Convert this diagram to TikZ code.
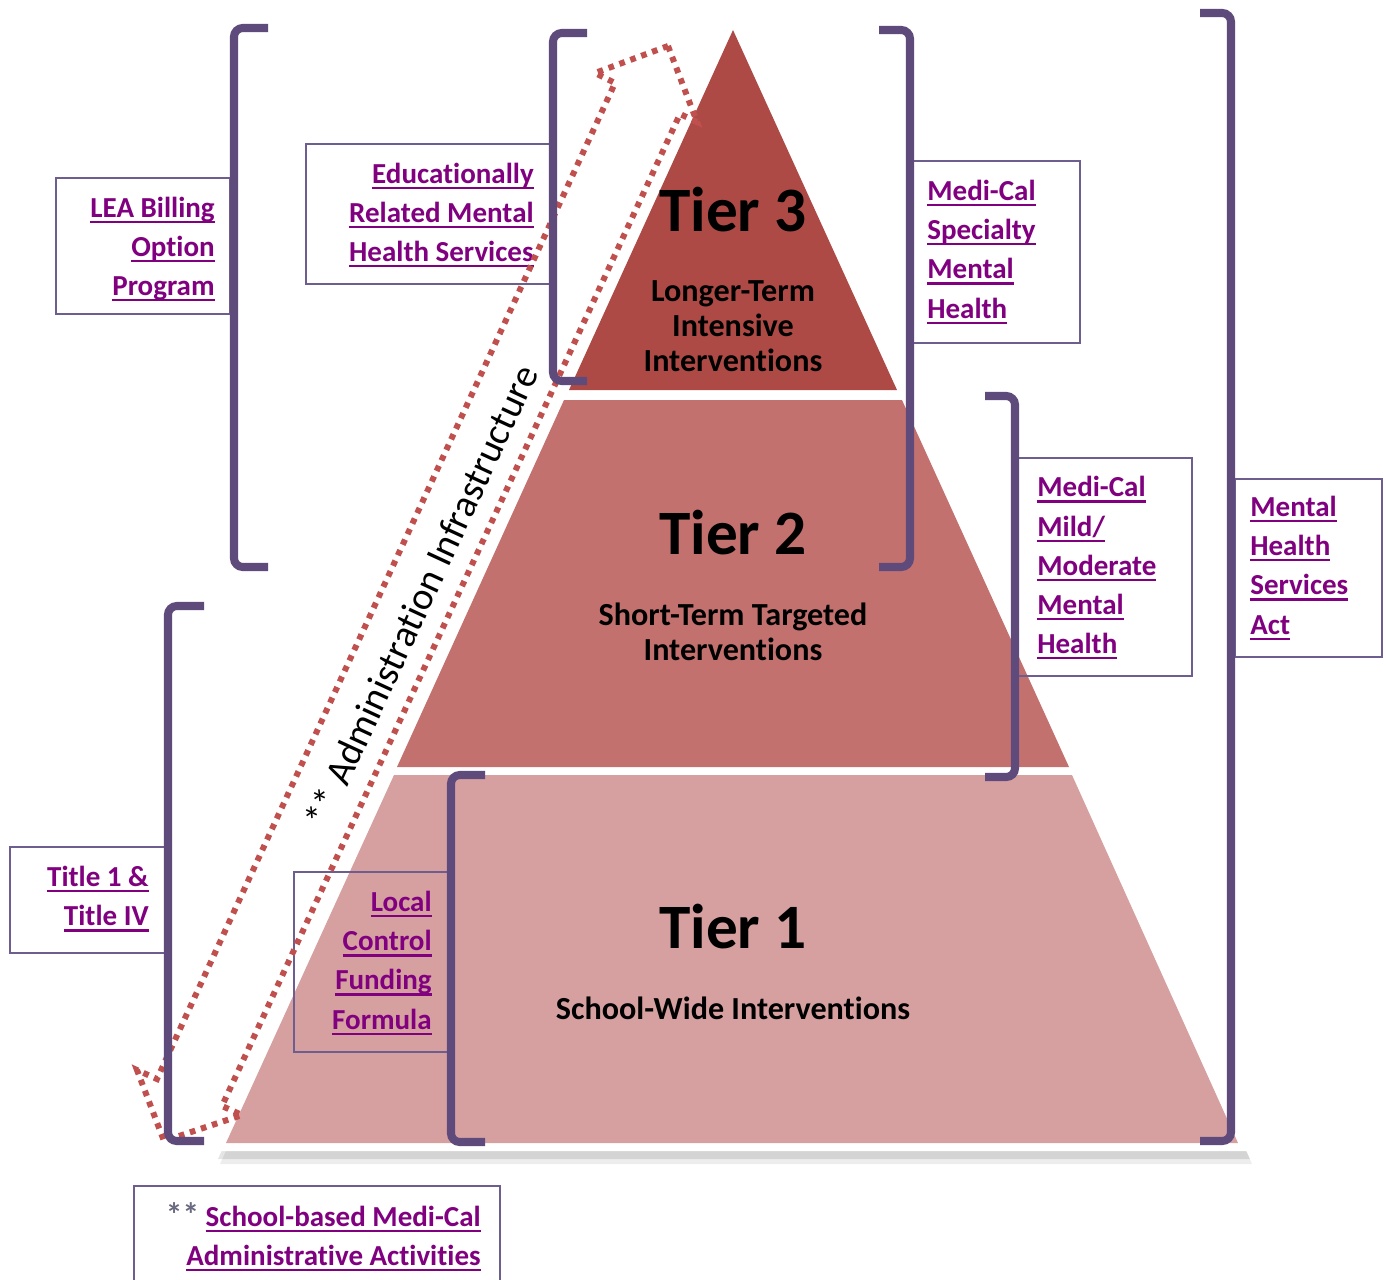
\documentclass[tikz,border=0pt]{standalone}
\usepackage{fontspec}
\setmainfont{Carlito}[Ligatures=NoCommon]
\usetikzlibrary{fit}
\definecolor{brc}{HTML}{5F4B7B}
\definecolor{boxc}{HTML}{6E5E90}
\definecolor{linkc}{HTML}{800080}
\definecolor{starc}{HTML}{6A6A80}
\definecolor{dotc}{HTML}{C0504D}
\definecolor{tthree}{HTML}{AE4A46}
\definecolor{ttwo}{HTML}{C3716F}
\definecolor{tone}{HTML}{D7A0A0}
\newcommand\lnk[1]{{\setbox0\hbox{#1}\rlap{\color{linkc}\rule[-3.3pt]{\wd0}{1.3pt}}\box0}}
\begin{document}
\begin{tikzpicture}[x=0.02cm,y=-0.02cm,
  brk/.style={draw=brc, line width=4.6pt, rounded corners=5pt},
  lbox/.style={draw=boxc, line width=1.2pt, inner sep=0pt},
  lnkt/.style={text=linkc, font=\fontsize{16.5}{22.3}\selectfont\bfseries, inner sep=0pt},
  tierbig/.style={font=\fontsize{36}{40}\selectfont\bfseries, text=black, inner sep=0pt},
  tiersub/.style={font=\fontsize{18.3}{19.9}\selectfont\bfseries, align=center, inner sep=0pt},
  dots/.style={draw=dotc, line width=3.4pt, dash pattern=on 3.2pt off 3.4pt, line join=miter}]
\useasboundingbox (0,0) rectangle (1386,1279);
\fill[white] (0,0) rectangle (1386,1279);
% pyramid with soft shadow
\fill[black, opacity=0.07] (735,26) -- (1252,1164) -- (220,1164) -- cycle;
\fill[black, opacity=0.10] (734,22) -- (1250,1159) -- (218,1159) -- cycle;
\fill[white] (733,16) -- (1249,1151) -- (215,1151) -- cycle;
\fill[tthree] (733,30) -- (897,390) -- (569,390) -- cycle;
\fill[ttwo] (564,400) -- (902,400) -- (1069,767) -- (397,767) -- cycle;
\fill[tone] (394,775) -- (1072,775) -- (1238,1143) -- (226,1143) -- cycle;
% boxes
\node[lbox, fit={(56,178) (230,314)}] (leabox) {};
\node[lbox, fit={(306,144) (550,284)}] (erbox) {};
\node[lbox, fit={(912,161) (1080,343)}] (spbox) {};
\node[lbox, fit={(1017,458) (1192,676)}] (mmbox) {};
\node[lbox, fit={(1235,479) (1382,657)}] (mhbox) {};
\node[lbox, fit={(10,847) (168,953)}] (tibox) {};
\node[lbox, fit={(294,872) (450,1052)}] (lcbox) {};
\node[lbox, fit={(134,1186) (500,1295)}] (sbbox) {};
% texts of boxes
\node[lnkt, anchor=east, align=right] (leat) at (215,249) {\lnk{LEA Billing}\\\lnk{Option}\\\lnk{Program}};
\node[lnkt, anchor=east, align=right] (ert) at (534,215) {\lnk{Educationally}\\\lnk{Related Mental}\\\lnk{Health Services}};
\node[lnkt, anchor=west, align=left] (spt) at (927,252) {\lnk{Medi-Cal}\\\lnk{Specialty}\\\lnk{Mental}\\\lnk{Health}};
\node[lnkt, anchor=west, align=left] (mmt) at (1037,568) {\lnk{Medi-Cal}\\\lnk{Mild/}\\\lnk{Moderate}\\\lnk{Mental}\\\lnk{Health}};
\node[lnkt, anchor=west, align=left] (mht) at (1250,568) {\lnk{Mental}\\\lnk{Health}\\\lnk{Services}\\\lnk{Act}};
\node[lnkt, anchor=east, align=right] (tit) at (149,899) {\lnk{Title 1 \&}\\\lnk{Title IV}};
\node[lnkt, anchor=east, align=right] (lct) at (432,963) {\lnk{Local}\\\lnk{Control}\\\lnk{Funding}\\\lnk{Formula}};
\node[lnkt, anchor=east, align=right] (sbt) at (481,1237) {{\color{starc}\fontsize{19}{22}\selectfont **} \lnk{School-based Medi-Cal}\\\lnk{Administrative Activities}};
% dotted double arrow
\draw[dots] (668,46) -- (697,122) -- (680,114) -- (222,1106) -- (242,1115) -- (164,1141) -- (137,1070) -- (157,1079) -- (615,83) -- (595,73) -- cycle;
\node[rotate=65.2, font=\fontsize{22}{24}\selectfont, inner sep=0pt] (adm) at (421,596) {** Administration Infrastructure};
% brackets
\draw[brk] (268,28) -- (234,28) -- (234,567) -- (268,567);
\draw[brk] (587,33) -- (553,33) -- (553,381) -- (587,381);
\draw[brk] (879,30) -- (910,30) -- (910,567) -- (879,567);
\draw[brk] (985,396) -- (1015,396) -- (1015,777) -- (985,777);
\draw[brk] (1200,13) -- (1231,13) -- (1231,1141) -- (1200,1141);
\draw[brk] (204,606) -- (168,606) -- (168,1141) -- (204,1141);
\draw[brk] (485,775) -- (451,775) -- (451,1142) -- (485,1142);
% tier labels
\node[tierbig] (t3) at (733,210) {Tier 3};
\node[tiersub] (t3s) at (733,326) {Longer-Term\\Intensive\\Interventions};
\node[tierbig] (t2) at (733,533) {Tier 2};
\node[tiersub] (t2s) at (733,632) {Short-Term Targeted\\Interventions};
\node[tierbig] (t1) at (733,927) {Tier 1};
\node[tiersub] (t1s) at (733,1008) {School-Wide Interventions};
\end{tikzpicture}
\end{document}
